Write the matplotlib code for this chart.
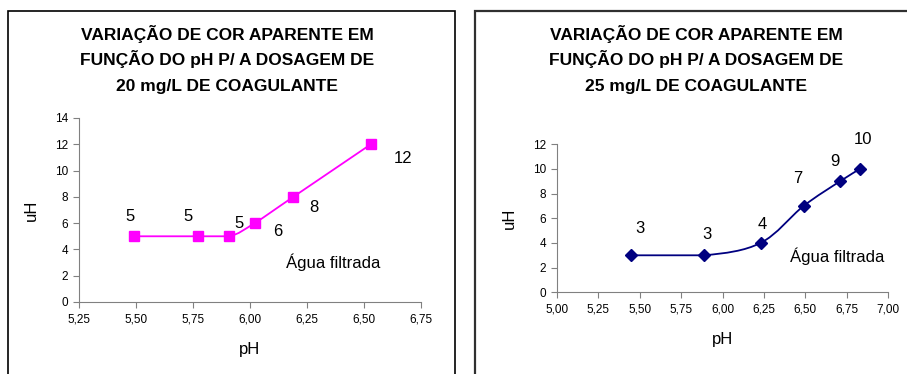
import matplotlib.pyplot as plt
from matplotlib.patches import Rectangle, PathPatch
from matplotlib.path import Path

plt.rcParams['font.family'] = ['Liberation Sans', 'DejaVu Sans']

# --- DATA ---
ph_20 = [5.49, 5.77, 5.91, 6.02, 6.19, 6.53]
cor_20 = [5, 5, 5, 6, 8, 12]

ph_25 = [5.45, 5.89, 6.23, 6.49, 6.71, 6.83]
cor_25 = [3, 3, 4, 7, 9, 10]

titles = [
    "VARIAÇÃO DE COR APARENTE EM\nFUNÇÃO DO pH P/ A DOSAGEM DE\n20 mg/L DE COAGULANTE",
    "VARIAÇÃO DE COR APARENTE EM\nFUNÇÃO DO pH P/ A DOSAGEM DE\n25 mg/L DE COAGULANTE",
]

xticks_20 = [5.25, 5.50, 5.75, 6.00, 6.25, 6.50, 6.75]
yticks_20 = [0, 2, 4, 6, 8, 10, 12, 14]
xticks_25 = [5.00, 5.25, 5.50, 5.75, 6.00, 6.25, 6.50, 6.75, 7.00]
yticks_25 = [0, 2, 4, 6, 8, 10, 12]

# label offsets (points), placed by hand like the original sheet
offs_20 = [(-3, 14), (-7, 14), (7, 9), (17, -6), (15, -8), (23, -10)]
offs_25 = [(6, 19), (2, 15), (1, 13), (-4, 20), (-4, 14), (2, 21)]


def smooth_path(xs, ys):
    # Excel-like smoothed line: cubic bezier through every point,
    # control points kept inside each segment's y-range (no overshoot)
    pts = list(zip(xs, ys))
    n = len(pts)
    verts = [pts[0]]
    codes = [Path.MOVETO]
    for i in range(n - 1):
        p0 = pts[i - 1] if i > 0 else pts[i]
        p1 = pts[i]
        p2 = pts[i + 1]
        p3 = pts[i + 2] if i + 2 < n else pts[i + 1]
        lo, hi = min(p1[1], p2[1]), max(p1[1], p2[1])
        c1y = min(max(p1[1] + (p2[1] - p0[1]) / 6, lo), hi)
        c2y = min(max(p2[1] - (p3[1] - p1[1]) / 6, lo), hi)
        c1 = (p1[0] + (p2[0] - p0[0]) / 6, c1y)
        c2 = (p2[0] - (p3[0] - p1[0]) / 6, c2y)
        verts += [c1, c2, p2]
        codes += [Path.CURVE4] * 3
    return Path(verts, codes)


def fmt(v):
    return f"{v:.2f}".replace(".", ",")


def draw(ax, xs, ys, color, marker, msize, xticks, yticks, offs, txt_pos):
    ax.add_patch(PathPatch(smooth_path(xs, ys), facecolor='none',
                           edgecolor=color, lw=1.3, zorder=2))
    ax.plot(xs, ys, linestyle='none', marker=marker, color=color,
            markersize=msize, zorder=3)
    for x, y, o in zip(xs, ys, offs):
        ax.annotate(str(y), (x, y), xytext=o, textcoords='offset points',
                    ha='center', va='center', fontsize=12)
    ax.text(txt_pos[0], txt_pos[1], "Água filtrada", transform=ax.transAxes,
            ha='center', va='center', fontsize=12)
    ax.set_xlim(xticks[0], xticks[-1])
    ax.set_ylim(yticks[0], yticks[-1])
    ax.set_xticks(xticks)
    ax.set_xticklabels([fmt(v) for v in xticks], fontsize=8.5)
    ax.set_yticks(yticks)
    ax.set_yticklabels([str(v) for v in yticks], fontsize=8.5)
    ax.tick_params(direction='out', length=4, color='#808080', pad=4)
    for s in ['top', 'right']:
        ax.spines[s].set_visible(False)
    for s in ['left', 'bottom']:
        ax.spines[s].set_color('#808080')
    ax.set_xlabel("pH", fontsize=12, labelpad=12)
    ax.set_ylabel("uH", fontsize=12, labelpad=11)


def title_lines(x, text):
    # one line at a time so the accents don't push the spacing around
    for line, base in zip(text.split("\n"), [40, 65, 91]):
        fig.text(x / 907, 1 - base / 374, line, ha='center', va='baseline',
                 fontsize=12.5, fontweight='bold')


fig = plt.figure(figsize=(9.07, 3.74), dpi=100)

# chart frames
fig.patches.append(Rectangle((8 / 907, -0.1), (455 - 8) / 907, 1.1 - 11 / 374,
                             transform=fig.transFigure, fill=False,
                             edgecolor='black', lw=1.2))
fig.patches.append(Rectangle((475 / 907, -0.1), 0.6, 1.1 - 11 / 374,
                             transform=fig.transFigure, fill=False,
                             edgecolor='#303030', lw=1.6))

ax1 = fig.add_axes([79 / 907, 1 - 302 / 374, 342 / 907, 184 / 374])
draw(ax1, ph_20, cor_20, '#FF00FF', 's', 7, xticks_20, yticks_20, offs_20,
     (0.743, 0.217))

ax2 = fig.add_axes([557 / 907, 1 - 292.3 / 374, 331 / 907, 148 / 374])
draw(ax2, ph_25, cor_25, '#000080', 'D', 6.5, xticks_25, yticks_25, offs_25,
     (0.846, 0.245))

title_lines(227, titles[0])
title_lines(696, titles[1])

fig.savefig('out.png', dpi=100)
